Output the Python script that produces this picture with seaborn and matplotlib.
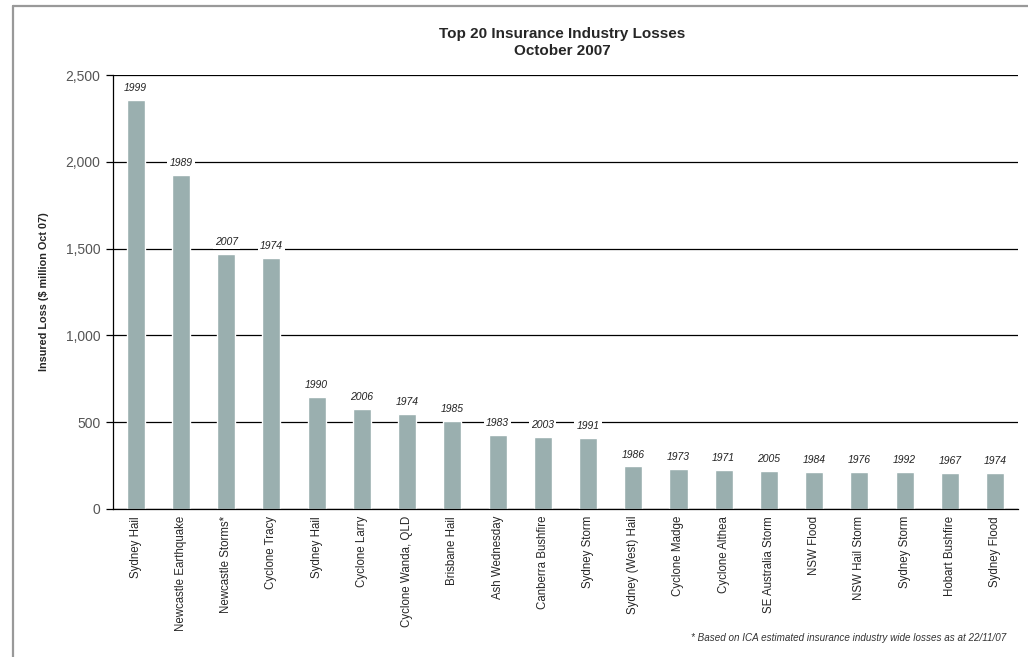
# Top 20 insurance industry losses - bar chart with year labels
import seaborn as sns
import matplotlib.pyplot as plt
import matplotlib.ticker as mticker
from matplotlib.lines import Line2D
import pandas as pd

events = ["Sydney Hail", "Newcastle Earthquake", "Newcastle Storms*", "Cyclone Tracy",
          "Sydney Hail", "Cyclone Larry", "Cyclone Wanda, QLD", "Brisbane Hail",
          "Ash Wednesday", "Canberra Bushfire", "Sydney Storm", "Sydney (West) Hail",
          "Cyclone Madge", "Cyclone Althea", "SE Australia Storm", "NSW Flood",
          "NSW Hail Storm", "Sydney Storm", "Hobart Bushfire", "Sydney Flood"]
years = ["1999", "1989", "2007", "1974", "1990", "2006", "1974", "1985", "1983", "2003",
         "1991", "1986", "1973", "1971", "2005", "1984", "1976", "1992", "1967", "1974"]
losses = [2355, 1925, 1470, 1445, 645, 575, 550, 507, 425, 415,
          410, 245, 230, 225, 219, 213, 213, 213, 207, 207]

df = pd.DataFrame({"rank": range(len(events)), "loss": losses})

sns.set_style("white")
plt.rcParams['font.family'] = ['Liberation Sans', 'DejaVu Sans']

fig = plt.figure(figsize=(10.28, 6.57), dpi=100)
ax = fig.add_axes([0.110, 0.2253, 0.880, 0.6605])

sns.barplot(data=df, x="rank", y="loss", color="#9aafaf", width=0.4,
            saturation=1, ax=ax, zorder=2)

ax.set_ylim(0, 2500)
ax.set_xlim(-0.5, len(events) - 0.5)
ax.yaxis.set_major_locator(mticker.MultipleLocator(500))
ax.yaxis.set_major_formatter(mticker.FuncFormatter(lambda v, p: f"{v:,.0f}"))
ax.grid(axis="y", color="black", linewidth=0.9, zorder=0)
ax.set_axisbelow(True)

# year labels above each bar, white box cuts the gridline
for i, (v, yr) in enumerate(zip(losses, years)):
    ax.annotate(yr, (i, v), xytext=(0, 5), textcoords="offset points",
                ha="center", va="bottom", fontsize=7.5, style="italic", color="#222222",
                bbox=dict(facecolor="white", edgecolor="none", pad=1.5), zorder=3)

ax.set_xticks(range(len(events)))
ax.set_xticklabels(events, rotation=90, fontsize=8.3)
ax.set_xticks([i - 0.5 for i in range(len(events) + 1)], minor=True)
ax.tick_params(axis="x", which="major", length=0, pad=5)
ax.tick_params(axis="x", which="minor", length=4, width=0.9, direction="out", color="black")
ax.tick_params(axis="y", length=5, width=0.9, direction="out", color="black", pad=4,
               labelsize=10, labelcolor="#555555", left=True)

for s in ["top", "right"]:
    ax.spines[s].set_visible(False)
for s in ["left", "bottom"]:
    ax.spines[s].set_color("black")
    ax.spines[s].set_linewidth(0.9)

ax.set_xlabel("")
ax.set_ylabel("Insured Loss ($ million Oct 07)", fontsize=7.8, fontweight="bold", labelpad=12)

fig.text(0.547, 0.935, "Top 20 Insurance Industry Losses\nOctober 2007", ha="center",
         va="center", fontsize=11, fontweight="bold", linespacing=1.3)
fig.text(0.979, 0.029, "* Based on ICA estimated insurance industry wide losses as at 22/11/07",
         ha="right", va="center", fontsize=7.1, style="italic", color="#333333")

# gray frame on top and left
fig.add_artist(Line2D([13 / 1028, 1], [1 - 6 / 657, 1 - 6 / 657], color="#999999", linewidth=1.6))
fig.add_artist(Line2D([13 / 1028, 13 / 1028], [0, 1 - 6 / 657], color="#999999", linewidth=1.6))

fig.savefig("out.png", dpi=100)
